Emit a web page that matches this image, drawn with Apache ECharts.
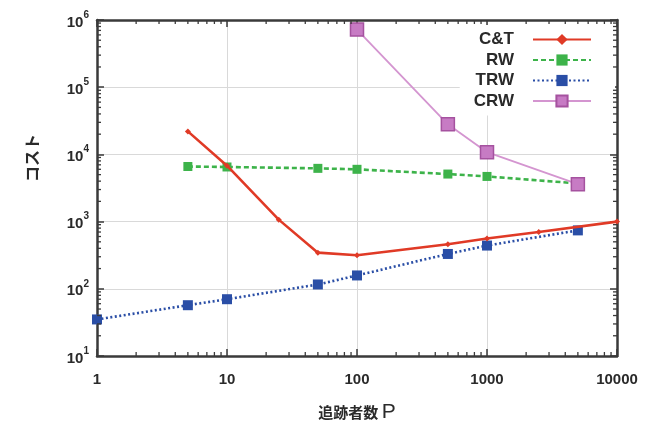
<!DOCTYPE html>
<html>
<head>
<meta charset="utf-8">
<script src="https://cdn.jsdelivr.net/npm/echarts@6/dist/echarts.min.js"></script>
<style>
  html, body { margin: 0; padding: 0; background: #fff; }
  #chart { width: 671px; height: 424px; }
</style>
</head>
<body>
<div id="chart"></div>
<script>
// Cost versus number of pursuers P, log-log
const ctP   = [5, 10, 25, 50, 100, 500, 1000, 2500, 10000];
const ctVal = [22000, 6800, 1070, 345, 315, 460, 560, 700, 1000];

const rwP   = [5, 10, 50, 100, 500, 1000, 5000];
const rwVal = [6600, 6500, 6200, 6000, 5100, 4700, 3700];

const trwP   = [1, 5, 10, 50, 100, 500, 1000, 5000];
const trwVal = [35, 57, 70, 116, 158, 330, 440, 740];

const crwP   = [100, 500, 1000, 5000];
const crwVal = [720000, 28000, 10800, 3600];

const X_MIN = 1, X_MAX = 10000, Y_MIN = 10, Y_MAX = 1e6;

function pairs(xs, ys) { return xs.map((x, i) => [x, ys[i]]); }

// minor tick positions at 2..9 within each decade
function minorVals(lo, hi) {
  const out = [];
  for (let d = lo; d < hi; d *= 10) for (let m = 2; m <= 9; m++) out.push(m * d);
  return out;
}
const xMinor = minorVals(X_MIN, X_MAX).map(v => [v, Y_MIN]);
const yMinor = minorVals(Y_MIN, Y_MAX).map(v => [X_MIN, v]);

const FONT = '"Liberation Sans", Arial, sans-serif';
const AX = '#3a3a3a';

const chart = echarts.init(document.getElementById('chart'), null, { renderer: 'canvas' });

function axisCommon() {
  return {
    type: 'log', logBase: 10,
    axisLine: { show: true, onZero: false, lineStyle: { color: AX, width: 2.5 } },
    axisTick: { show: true, inside: true, length: 7, lineStyle: { color: AX, width: 1.5 } },
  };
}

const minorLen = 4;
function tickSeries(name, data, horizontal) {
  return {
    type: 'custom', name: name, silent: true, clip: false, z: 5,
    xAxisIndex: 0, yAxisIndex: 0,
    data: data,
    renderItem: function (params, api) {
      const st = { stroke: AX, lineWidth: 1.3 };
      if (horizontal) {
        const v = api.value(0);
        const b = api.coord([v, Y_MIN]);
        const t = api.coord([v, Y_MAX]);
        return { type: 'group', children: [
          { type: 'line', shape: { x1: b[0], y1: b[1], x2: b[0], y2: b[1] - minorLen }, style: st },
          { type: 'line', shape: { x1: t[0], y1: t[1], x2: t[0], y2: t[1] + minorLen }, style: st }
        ]};
      } else {
        const v = api.value(1);
        const l = api.coord([X_MIN, v]);
        const r = api.coord([X_MAX, v]);
        return { type: 'group', children: [
          { type: 'line', shape: { x1: l[0], y1: l[1], x2: l[0] + minorLen, y2: l[1] }, style: st },
          { type: 'line', shape: { x1: r[0], y1: r[1], x2: r[0] - minorLen, y2: r[1] }, style: st }
        ]};
      }
    }
  };
}

const option = {
  backgroundColor: '#fff',
  animation: false,
  grid: { left: 97, right: 54, top: 20, bottom: 68, containLabel: false, outerBoundsMode: 'none' },
  legend: {
    data: ['C&T', 'RW', 'TRW', 'CRW'],
    orient: 'vertical', align: 'right',
    right: 56, top: 25,
    padding: [6, 23, 6, 14],
    backgroundColor: '#fff',
    itemWidth: 58, itemHeight: 14, itemGap: 3.5,
    textStyle: { fontFamily: FONT, fontWeight: 'bold', fontSize: 17, lineHeight: 17, color: '#2a2a2a', padding: [0, 14, 0, 0] }
  },
  xAxis: [
    Object.assign(axisCommon(), {
      min: X_MIN, max: X_MAX, position: 'bottom',
      splitLine: { show: true, lineStyle: { color: '#d9d9d9', width: 1 } },
      axisLabel: { fontFamily: FONT, fontWeight: 'bold', fontSize: 15, color: '#2a2a2a', margin: 16,
        formatter: v => String(Math.round(v)) },
      name: '{a|追跡者数} {p|P}', nameLocation: 'middle', nameGap: 46,
      nameTextStyle: { rich: {
        a: { fontFamily: '"Noto Sans CJK JP", sans-serif', fontWeight: 'bold', fontSize: 15, color: '#2a2a2a' },
        p: { fontFamily: FONT, fontSize: 21, color: '#2a2a2a' }
      } }
    }),
    Object.assign(axisCommon(), {
      min: X_MIN, max: X_MAX, position: 'top',
      splitLine: { show: false }, axisLabel: { show: false }
    })
  ],
  yAxis: [
    Object.assign(axisCommon(), {
      min: Y_MIN, max: Y_MAX, position: 'left',
      splitLine: { show: true, lineStyle: { color: '#d9d9d9', width: 1 } },
      axisLabel: {
        margin: 8,
        formatter: v => '{b|10}{e|' + Math.round(Math.log10(v)) + '}',
        rich: {
          b: { fontFamily: FONT, fontWeight: 'bold', fontSize: 15, color: '#2a2a2a', verticalAlign: 'bottom', lineHeight: 20 },
          e: { fontFamily: FONT, fontWeight: 'bold', fontSize: 10, color: '#2a2a2a', verticalAlign: 'top', lineHeight: 20, padding: [0, 0, 8, 0] }
        }
      }
    }),
    Object.assign(axisCommon(), {
      min: Y_MIN, max: Y_MAX, position: 'right',
      splitLine: { show: false }, axisLabel: { show: false }
    })
  ],
  graphic: [{
    type: 'text', left: 24, top: 134, rotation: Math.PI / 2,
    style: { text: 'コスト', font: 'bold 16px "Noto Sans CJK JP", sans-serif', fill: '#2a2a2a' }
  }],
  series: [
    tickSeries('xminor', xMinor, true),
    tickSeries('yminor', yMinor, false),
    {
      name: 'C&T', type: 'line', data: pairs(ctP, ctVal), z: 4,
      symbol: 'diamond', symbolSize: 6, color: '#e03a26',
      lineStyle: { width: 2.6, color: '#e03a26' },
      itemStyle: { color: '#e03a26' }
    },
    {
      name: 'RW', type: 'line', data: pairs(rwP, rwVal), z: 3,
      symbol: 'rect', symbolSize: 9, color: '#3db34a',
      lineStyle: { width: 2.6, type: [5, 3], color: '#3db34a' },
      itemStyle: { color: '#3db34a' }
    },
    {
      name: 'TRW', type: 'line', data: pairs(trwP, trwVal), z: 3,
      symbol: 'rect', symbolSize: 10, color: '#2a4ea6',
      lineStyle: { width: 2.6, type: [2, 2.5], color: '#2a4ea6' },
      itemStyle: { color: '#2a4ea6' }
    },
    {
      name: 'CRW', type: 'line', data: pairs(crwP, crwVal), z: 3,
      symbol: 'rect', symbolSize: 13, color: '#c77bc4',
      lineStyle: { width: 1.8, color: '#d495d0' },
      itemStyle: { color: '#c77bc4', borderColor: '#a5529f', borderWidth: 1.5 }
    }
  ]
};

chart.setOption(option);
</script>
</body>
</html>
